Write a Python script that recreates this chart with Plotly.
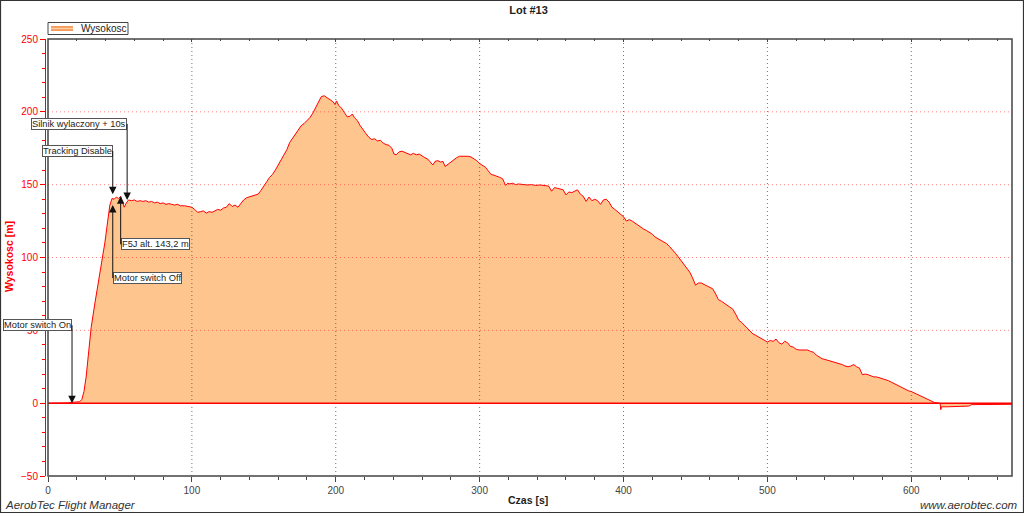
import plotly.graph_objects as go

# ---- data ----
czas = [0, 5, 10, 14, 16, 18, 20, 22, 23.5, 25, 26.5, 28, 30, 32.5, 35, 37, 39.5, 41.5, 43, 44.5,
        46, 47.5, 49, 50.5, 52, 53, 54.5, 56, 58, 60, 62, 64, 66, 68, 70, 72, 74, 76, 78, 80,
        82, 84, 86, 88, 90, 92, 95, 98, 100, 102, 104, 106, 108, 110, 112, 114, 116, 118, 120, 122,
        124, 126, 128, 130, 132, 134, 136, 138, 140, 142, 144, 146, 148, 150, 152, 154, 156, 158, 160, 162,
        164, 166, 168, 170, 172, 174, 176, 178, 180, 182, 184, 186, 188, 190, 192, 194, 196, 198, 199.5, 200.5,
        202, 204, 206, 208, 210, 211.5, 213, 215, 217, 219, 221, 223, 225, 227, 229, 231, 233, 235, 237, 239,
        240.5, 242, 244, 246, 248, 250, 252, 254, 256, 258, 260, 262, 264, 266, 267.5, 269, 271, 273, 274.5, 276,
        278, 280, 282, 284, 286, 288, 290, 292, 294, 296, 298, 300, 302, 304, 306, 308, 310, 312, 314, 316,
        318, 319.5, 321, 323, 325, 327, 330, 333, 336, 339, 342, 345, 348, 350, 352, 354, 356, 358, 360, 362,
        364, 366, 368, 370, 372, 374, 376, 378, 380, 382, 384, 386, 388, 390, 392, 394, 396, 398, 400, 402,
        404, 406, 408, 410, 412, 414, 416, 418, 420, 422, 424, 426, 428, 430, 432, 434, 436, 438, 440, 442,
        444, 446, 448, 450, 452, 454, 456, 458, 460, 462, 464, 466, 468, 470, 472, 474, 476, 478, 480, 482,
        484, 486, 488, 490, 492, 494, 496, 498, 500, 502, 504, 506, 508, 510, 512, 514, 516, 518, 520, 522,
        524, 526, 528, 530, 532, 534, 536, 538, 540, 542, 544, 546, 548, 550, 552, 554, 556, 558, 560, 562,
        564, 566, 568, 570, 572, 574, 576, 578, 580, 582, 584, 586, 588, 590, 592, 594, 596, 598, 600, 602,
        604, 606, 608, 610, 612, 614, 616, 618, 620, 620.5, 621, 625, 630, 635, 640, 642, 650, 660, 670]

wysokosc = [0, 0, -0.3, 0.2, 0.5, 0.8, 0.6, 1, 2.5, 8, 18, 32, 52, 68, 82, 95, 110, 125, 136, 140.5,
            140, 141.5, 140.5, 142, 138, 134.5, 137.5, 139.5, 139, 139.5, 138.5, 139, 138.5, 139, 138, 138.5, 137.5, 138, 137, 137.5,
            136.5, 137, 136.5, 136, 136.5, 135.5, 135.5, 135, 134.5, 133, 131, 131.5, 132, 130.5, 131.5, 131, 132, 133, 132.5, 134,
            134.5, 137, 135, 136, 134.5, 137, 139.5, 141, 141.5, 142, 142.5, 143.5, 146, 149.5, 152, 155, 157, 160, 164, 167,
            170.5, 174, 179, 182, 185, 187.5, 190.5, 192, 194, 196, 199, 203, 207.5, 210.5, 211, 209.5, 208.5, 207, 205, 207.5,
            204.5, 202.5, 199.5, 196.5, 197, 198.5, 196, 194, 190.5, 187.5, 185, 182.5, 181, 181.5, 180, 180.5, 178.5, 177.5, 177, 175,
            171, 170.5, 172.5, 173, 172, 171.5, 170.5, 171.5, 170.5, 171, 169.5, 168.5, 167.5, 165.5, 163.5, 166, 166.5, 165.5, 166, 162.5,
            164, 166, 167.5, 168.5, 169.5, 169.5, 169.8, 169.5, 169, 168, 166.5, 164.5, 163.5, 162, 159.5, 157, 156.5, 156, 155, 154,
            149.5, 151, 150.5, 151, 150, 150.5, 150, 149.8, 150, 149.5, 149.8, 149.2, 149, 145.5, 148, 147.5, 147, 146.5, 143, 145,
            144.5, 145.5, 146.5, 143.5, 142, 138.5, 141.5, 139, 140, 139, 136.5, 139.5, 140, 138, 134.5, 133, 131.5, 130, 128, 125,
            126, 125, 123.5, 122.5, 121, 119.5, 118.5, 117.5, 116, 114, 113, 112, 111, 109.5, 107.5, 105.5, 103, 100.5, 98, 95,
            92.5, 90, 86, 81, 82.5, 82.5, 81.5, 80.5, 80, 78.5, 75, 71, 70, 68.5, 67, 66, 64.5, 61, 57, 55.5,
            53.5, 51.5, 49, 47.5, 46.5, 45.5, 44.5, 43.5, 42, 43, 42.5, 44, 41.5, 40.5, 42.5, 41.5, 39, 38.5, 37, 36.5,
            36.5, 36, 36.5, 35.5, 35, 33, 31.5, 30.5, 30, 29.5, 28.5, 28.5, 28, 27.5, 26.5, 25.5, 25, 25.5, 26.5, 25,
            24, 19.5, 20, 19.5, 18.5, 18, 18, 17.5, 17, 16.5, 15.5, 14.5, 13.5, 12, 11, 10, 9.5, 8.5, 8, 7,
            6, 5, 4.5, 3.5, 2, 1, 0.5, 0.2, 0, -4.5, -2.5, -2.5, -2.3, -2.2, -2, -1, -1, -0.8, -0.8]

x_ticks = [0, 100, 200, 300, 400, 500, 600]
y_ticks = [-50, 0, 50, 100, 150, 200, 250]
x_grid = [100, 200, 300, 400, 500, 600]
y_grid = [50, 100, 150, 200]

series_name = "Wysokosc"

# events: label, time, altitude, box offset (px), box side
ev_labels = ["Motor switch On", "Tracking Disable", "Silnik wylaczony + 10s", "F5J alt. 143,2 m", "Motor switch Off"]
ev_time = [16.7, 45, 55, 50.5, 45]
ev_alt = [0, 143.5, 139.5, 142, 136]
ev_offset = [-78, -43, -76, 48, 73]
ev_anchor = ["right", "right", "right", "left", "left"]

FONT = "Liberation Sans, Arial, sans-serif"
RED = "#FF0000"
FILL = "#FEC68E"

W, H = 1024, 513
L, R, T, B = 45, 12, 39, 37
pw, ph = W - L - R, H - T - B


def px_x(p):  # page pixel -> paper x
    return (p - L) / pw


def px_y(p):  # page pixel -> paper y
    return (H - B - p) / ph


fig = go.Figure()
fig.add_trace(go.Scatter(
    x=czas, y=wysokosc, mode="lines", name=series_name, showlegend=False,
    line=dict(color=RED, width=1), fill="tozeroy", fillcolor=FILL,
))
# invisible companion so the top (mirrored) axis is drawn
fig.add_trace(go.Scatter(x=[czas[0]], y=[wysokosc[0]], xaxis="x2", mode="markers",
                         marker=dict(opacity=0), showlegend=False, hoverinfo="skip"))

shapes = []
for gx in x_grid:
    shapes.append(dict(type="line", xref="x", yref="y domain", x0=gx, x1=gx, y0=0, y1=1,
                       line=dict(color="rgba(80,80,80,0.8)", width=1, dash="1px,3px"), layer="above"))
for gy in y_grid:
    shapes.append(dict(type="line", xref="x domain", yref="y", x0=0, x1=1, y0=gy, y1=gy,
                       line=dict(color="rgba(255,50,50,0.6)", width=1, dash="1px,3px"), layer="above"))
# zero line
shapes.append(dict(type="line", xref="x domain", yref="y", x0=0, x1=1, y0=0, y1=0,
                   line=dict(color=RED, width=1.5), layer="above"))
# plot frame
shapes.append(dict(type="rect", xref="x domain", yref="y domain", x0=0, x1=1, y0=0, y1=1,
                   line=dict(color="#444444", width=1.5), layer="above"))
# outer border of the figure
shapes.append(dict(type="rect", xref="paper", yref="paper",
                   x0=px_x(0.5), x1=px_x(W - 0.5), y0=px_y(H - 0.5), y1=px_y(0.5),
                   line=dict(color="#333333", width=1.2), layer="above"))
# legend box + swatch
shapes.append(dict(type="rect", xref="paper", yref="paper",
                   x0=px_x(48), x1=px_x(128), y0=px_y(34.5), y1=px_y(22.5),
                   line=dict(color="#444444", width=1), fillcolor="white", layer="above"))
shapes.append(dict(type="line", xref="paper", yref="paper",
                   x0=px_x(51), x1=px_x(73), y0=px_y(28.5), y1=px_y(28.5),
                   line=dict(color="#F59A5C", width=5), layer="above"))
shapes.append(dict(type="line", xref="paper", yref="paper",
                   x0=px_x(51), x1=px_x(73), y0=px_y(28.5), y1=px_y(28.5),
                   line=dict(color="#FFCC9C", width=1.5), layer="above"))

annotations = []
for lab, t, a, off, anc in zip(ev_labels, ev_time, ev_alt, ev_offset, ev_anchor):
    annotations.append(dict(
        x=t, y=a, xref="x", yref="y", text=lab, showarrow=True,
        ax=0, ay=off, axref="pixel", ayref="pixel", xanchor=anc, yanchor="middle",
        arrowhead=2, arrowsize=1.5, arrowwidth=1, arrowcolor="#111111", standoff=0,
        bgcolor="white", bordercolor="#555555", borderwidth=1, borderpad=0,
        font=dict(family=FONT, size=9.3, color="#222222"),
    ))
annotations.append(dict(text=series_name, xref="paper", yref="paper", x=px_x(79), y=px_y(28.5),
                        xanchor="left", yanchor="middle", showarrow=False,
                        font=dict(family=FONT, size=10, color="#222222")))
annotations.append(dict(text="<i>AerobTec Flight Manager</i>", xref="paper", yref="paper",
                        x=px_x(3), y=px_y(505), xanchor="left", yanchor="middle",
                        showarrow=False, font=dict(family=FONT, size=11.5, color="#333333")))
annotations.append(dict(text="<i>www.aerobtec.com</i>", xref="paper", yref="paper",
                        x=px_x(1020), y=px_y(505), xanchor="right", yanchor="middle",
                        showarrow=False, font=dict(family=FONT, size=11.5, color="#333333")))
annotations.append(dict(text="<b>Czas [s]</b>", xref="paper", yref="paper",
                        x=px_x(528), y=px_y(500), xanchor="center", yanchor="middle",
                        showarrow=False, font=dict(family=FONT, size=10.5, color="#222222")))
annotations.append(dict(text="<b>Wysokosc [m]</b>", xref="paper", yref="paper", textangle=-90,
                        x=px_x(9), y=px_y(257), xanchor="center", yanchor="middle",
                        showarrow=False, font=dict(family=FONT, size=10.5, color=RED)))

fig.update_layout(
    width=W, height=H,
    margin=dict(l=L, r=R, t=T, b=B, autoexpand=False),
    paper_bgcolor="white", plot_bgcolor="white",
    font=dict(family=FONT, size=10, color="#333333"),
    title=dict(text="<b>Lot #13</b>", x=0.5, xref="paper", y=1 - 10 / H, yanchor="middle",
               font=dict(family=FONT, size=11, color="#222222")),
    showlegend=False,
    hovermode=False,
    xaxis=dict(range=[0, 670], domain=[3 / pw, 1], tickvals=x_ticks, automargin=False,
               showgrid=False, zeroline=False, showline=False,
               ticks="outside", ticklen=5, tickcolor="#444444",
               minor=dict(dtick=20, ticks="outside", ticklen=3, tickcolor="#444444"),
               tickfont=dict(family=FONT, size=10, color="#444444")),
    xaxis2=dict(range=[0, 670], domain=[3 / pw, 1], overlaying="x", side="top", anchor="y",
                tickvals=x_ticks, showticklabels=False, automargin=False,
                showgrid=False, zeroline=False, showline=False,
                ticks="inside", ticklen=3, tickcolor="#444444",
                minor=dict(dtick=20, ticks="inside", ticklen=2, tickcolor="#444444")),
    yaxis=dict(range=[-50, 250], anchor="free", position=0, tickvals=y_ticks, automargin=False,
               showgrid=False, zeroline=False, showline=True, linecolor=RED, linewidth=1,
               ticks="outside", ticklen=5, tickcolor=RED,
               minor=dict(dtick=10, ticks="outside", ticklen=3, tickcolor=RED),
               tickfont=dict(family=FONT, size=10, color=RED)),
    shapes=shapes,
    annotations=annotations,
)

fig.write_html("out.html", config={"displayModeBar": False},
               post_script="document.body.style.margin='0';document.body.style.overflow='hidden';")
